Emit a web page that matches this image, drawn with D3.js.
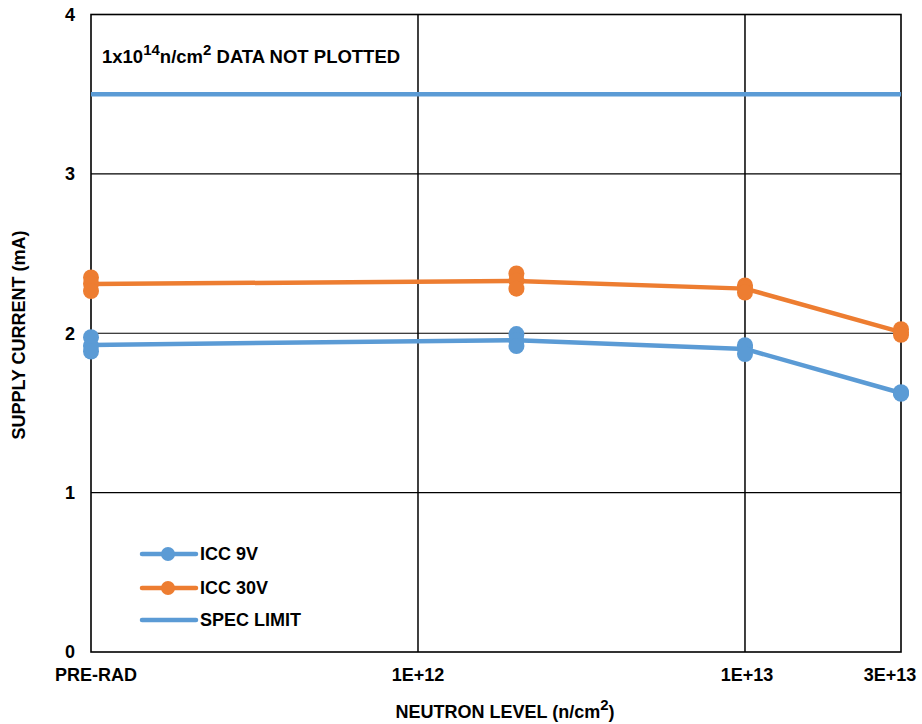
<!DOCTYPE html>
<html>
<head>
<meta charset="utf-8">
<script src="https://cdn.jsdelivr.net/npm/d3@7"></script>
<style>
  html, body { margin: 0; padding: 0; background: #fff; }
  svg text { font-family: "Liberation Sans", Arial, sans-serif; font-weight: bold; fill: #000; }
</style>
</head>
<body>
<svg id="chart" width="922" height="724"></svg>
<script>
// Neutron levels (PRE-RAD plotted at 1E+11 on the log axis)
const levels = [1e11, 2e12, 1e13, 3e13];
const xTickValues = [1e11, 1e12, 1e13, 3e13];
const xTickLabels = ["PRE-RAD", "1E+12", "1E+13", "3E+13"];
const yTickValues = [0, 1, 2, 3, 4];

// Individual unit readings (mA) at each level
const icc9vUnits = [
  [1.975, 1.920, 1.885],
  [1.995, 1.955, 1.920],
  [1.925, 1.910, 1.870],
  [1.630, 1.625, 1.620]
];
const icc30vUnits = [
  [2.350, 2.310, 2.265],
  [2.375, 2.330, 2.280],
  [2.300, 2.285, 2.255],
  [2.025, 2.005, 1.990]
];
const specLimit = 3.5;

const seriesNames = ["ICC 9V", "ICC 30V", "SPEC LIMIT"];
const colors = { blue: "#5B9BD5", orange: "#ED7D31" };

const svg = d3.select("#chart");
const m = { left: 91, right: 901, top: 14.5, bottom: 652 };

const x = d3.scaleLog().domain([1e11, 3e13]).range([m.left, m.right]);
const y = d3.scaleLinear().domain([0, 4]).range([m.bottom, m.top]);

// Gridlines
const g = svg.append("g");
g.selectAll(".hgrid").data([1, 2, 3]).enter().append("line")
  .attr("x1", m.left).attr("x2", m.right)
  .attr("y1", d => y(d)).attr("y2", d => y(d))
  .attr("stroke", "#000").attr("stroke-width", 1.1);
g.selectAll(".vgrid").data([1e12, 1e13]).enter().append("line")
  .attr("x1", d => x(d)).attr("x2", d => x(d))
  .attr("y1", m.top).attr("y2", m.bottom)
  .attr("stroke", "#000").attr("stroke-width", 1.5);

// Frame
svg.append("rect")
  .attr("x", m.left).attr("y", m.top)
  .attr("width", m.right - m.left).attr("height", m.bottom - m.top)
  .attr("fill", "none").attr("stroke", "#000").attr("stroke-width", 1.6);

// Y axis tick labels
svg.append("g").selectAll("text").data(yTickValues).enter().append("text")
  .attr("x", 75).attr("y", d => y(d)).attr("dy", "0.36em")
  .attr("text-anchor", "end").attr("font-size", 18)
  .text(d => d);

// X axis tick labels
const xAnchorShift = [5, 0, 2, -11];
svg.append("g").selectAll("text").data(xTickValues).enter().append("text")
  .attr("x", (d, i) => x(d) + xAnchorShift[i]).attr("y", 681)
  .attr("text-anchor", "middle").attr("font-size", 18)
  .text((d, i) => xTickLabels[i]);

// Axis titles
svg.append("text")
  .attr("transform", "translate(25,335) rotate(-90)")
  .attr("text-anchor", "middle").attr("font-size", 18)
  .text("SUPPLY CURRENT (mA)");
const xt = svg.append("text").attr("x", 505).attr("y", 718)
  .attr("text-anchor", "middle").attr("font-size", 18);
xt.append("tspan").text("NEUTRON LEVEL (n/cm");
xt.append("tspan").attr("dy", -8).attr("font-size", 15).text("2");
xt.append("tspan").attr("dy", 8).text(")");

// Annotation
const an = svg.append("text").attr("x", 102).attr("y", 63).attr("font-size", 18.5);
an.append("tspan").text("1x10");
an.append("tspan").attr("dy", -8).attr("font-size", 15).text("14");
an.append("tspan").attr("dy", 8).text("n/cm");
an.append("tspan").attr("dy", -8).attr("font-size", 15).text("2");
an.append("tspan").attr("dy", 8).text(" DATA NOT PLOTTED");

// Spec limit line
svg.append("line")
  .attr("x1", m.left).attr("x2", m.right)
  .attr("y1", y(specLimit)).attr("y2", y(specLimit))
  .attr("stroke", colors.blue).attr("stroke-width", 4.5);

// Series
function drawSeries(units, color) {
  const means = units.map((u, i) => ({ lvl: levels[i], v: d3.mean(u) }));
  const line = d3.line().x(d => x(d.lvl)).y(d => y(d.v));
  svg.append("path").datum(means)
    .attr("d", line).attr("fill", "none")
    .attr("stroke", color).attr("stroke-width", 4.5)
    .attr("stroke-linejoin", "round");
  const pts = [];
  units.forEach((u, i) => u.forEach(v => pts.push({ lvl: levels[i], v })));
  svg.append("g").selectAll("circle").data(pts).enter().append("circle")
    .attr("cx", d => x(d.lvl)).attr("cy", d => y(d.v)).attr("r", 8)
    .attr("fill", color);
}
drawSeries(icc30vUnits, colors.orange);
drawSeries(icc9vUnits, colors.blue);

// Legend
const legendRows = [
  { name: seriesNames[0], color: colors.blue, marker: true, y: 554 },
  { name: seriesNames[1], color: colors.orange, marker: true, y: 588 },
  { name: seriesNames[2], color: colors.blue, marker: false, y: 620 }
];
const lg = svg.append("g");
legendRows.forEach(r => {
  lg.append("line").attr("x1", 142).attr("x2", 196)
    .attr("y1", r.y).attr("y2", r.y)
    .attr("stroke", r.color).attr("stroke-width", 4.5).attr("stroke-linecap", "round");
  if (r.marker) lg.append("circle").attr("cx", 168).attr("cy", r.y).attr("r", 7).attr("fill", r.color);
  lg.append("text").attr("x", 200).attr("y", r.y).attr("dy", "0.36em")
    .attr("font-size", 18).text(r.name);
});
</script>
</body>
</html>
